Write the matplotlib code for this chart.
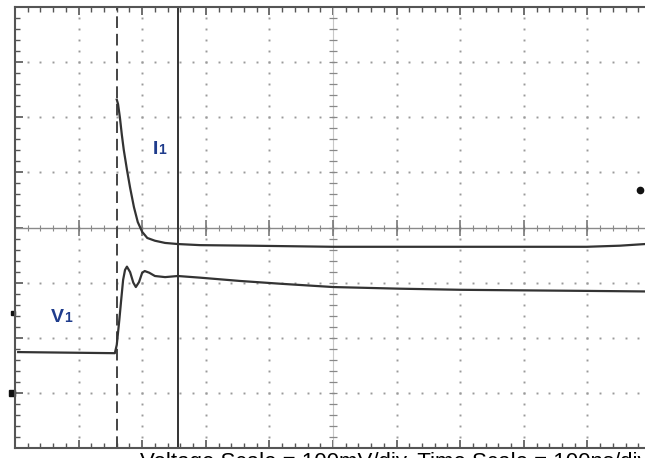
import numpy as np
import matplotlib.pyplot as plt

# scope trace values, in screen divisions (100 ns/div, 100 mV/div)
v1_t = [0.05, 1.57, 1.60, 1.64, 1.67, 1.70, 1.73, 1.76, 1.81, 1.86, 1.90, 1.95, 2.00, 2.04,
        2.11, 2.20, 2.36, 2.56, 2.91, 3.54, 4.17, 5.00, 6.05, 7.00, 7.94, 8.99, 9.91]
v1_y = [1.74, 1.72, 1.87, 2.32, 2.69, 3.05, 3.23, 3.29, 3.19, 3.00, 2.92, 3.01, 3.18, 3.21,
        3.18, 3.12, 3.10, 3.12, 3.09, 3.03, 2.98, 2.92, 2.89, 2.87, 2.86, 2.85, 2.84]

i1_t = [1.60, 1.62, 1.65, 1.68, 1.71, 1.76, 1.81, 1.87, 1.93, 2.00, 2.08, 2.20, 2.36,
        2.56, 2.91, 3.70, 5.00, 6.84, 8.99, 9.51, 9.91]
i1_y = [6.32, 6.24, 5.99, 5.68, 5.41, 5.05, 4.72, 4.37, 4.10, 3.92, 3.81, 3.76, 3.72,
        3.70, 3.68, 3.67, 3.65, 3.65, 3.65, 3.67, 3.70]

cursor_dashed = 1.60
cursor_solid = 2.56
scale_text = "Voltage Scale = 100mV/div, Time Scale = 100ns/div"

W, H = 645, 458
fig = plt.figure(figsize=(W / 100, H / 100), dpi=100)
ax = fig.add_axes([15 / W, 10 / H, 630 / W, 441 / H])
ax.set_xlim(0, 630 / 63.6)
ax.set_ylim(0, 8)

grid_c = '#9a9a9a'
# dotted graticule
for gx in range(1, 10):
    if gx == 5:
        continue
    ys = np.arange(0.2, 8, 0.2)
    ax.plot(np.full_like(ys, gx), ys, ls='none', marker='s', ms=1.4, color=grid_c, mew=0)
for gy in range(1, 8):
    if gy == 4:
        continue
    xs = np.arange(0.2, 10, 0.2)
    ax.plot(xs, np.full_like(xs, gy), ls='none', marker='s', ms=1.4, color=grid_c, mew=0)

# center axes with tick crosses
ax.axhline(4, color='#8a8a8a', lw=1.0)
ax.axvline(5, color='#c8c8c8', lw=0.8)
xs = np.arange(0.2, 10, 0.2)
ax.plot(xs, np.full_like(xs, 4), ls='none', marker='|', ms=5, color='#8a8a8a', mew=0.8)
ax.plot(np.arange(1, 10), np.full(9, 4), ls='none', marker='|', ms=12, color='#777777', mew=1.2)
ys = np.arange(0.2, 8, 0.2)
ax.plot(np.full_like(ys, 5), ys, ls='none', marker='_', ms=6, color='#888888', mew=0.9)

# cursors
ax.axvline(cursor_dashed, color='#444444', lw=1.4, ls=(0, (6, 3)))
ax.axvline(cursor_solid, color='#333333', lw=1.4)

# traces
ax.plot(v1_t, v1_y, color='#333333', lw=1.6)
ax.plot(i1_t, i1_y, color='#333333', lw=1.6)

# labels
lab_c = '#1f3c8c'
ax.text(2.17, 5.34, 'I', color=lab_c, fontsize=14, fontweight='bold',
        family='Liberation Sans', va='baseline')
ax.text(2.25, 5.34, '1', color=lab_c, fontsize=10, fontweight='bold',
        family='Liberation Sans', va='baseline')
ax.text(0.57, 2.29, 'V', color=lab_c, fontsize=14, fontweight='bold',
        family='Liberation Sans', va='baseline')
ax.text(0.78, 2.29, '1', color=lab_c, fontsize=10, fontweight='bold',
        family='Liberation Sans', va='baseline')

# scope markers
ax.plot([-0.03], [2.45], marker='s', ms=3.5, color='#111111', clip_on=False)
ax.plot([-0.05], [1.0], marker='s', ms=5, color='#111111', clip_on=False)
ax.plot([9.83], [4.68], marker='o', ms=4.5, color='#111111', clip_on=False)

# borders
for side in ['top', 'bottom', 'left']:
    ax.spines[side].set_color('#555555')
    ax.spines[side].set_linewidth(1.5)
ax.spines['right'].set_visible(False)
ax.set_xticks(np.arange(0, 10, 1))
ax.set_xticks(np.arange(0, 10, 0.2), minor=True)
ax.set_yticks(np.arange(0, 9, 1))
ax.set_yticks(np.arange(0, 8, 0.2), minor=True)
ax.tick_params(which='both', direction='in', top=True, bottom=True, left=True, right=False,
               labelbottom=False, labelleft=False, color='#555555')
ax.tick_params(which='major', length=6, width=1.2)
ax.tick_params(which='minor', length=3.5, width=1.0)

# caption, cut off by the bottom edge as in the screenshot
fig.text(140 / W, 1 - 468 / H, scale_text, fontsize=16, family='Liberation Sans',
         color='black', va='baseline', ha='left')

fig.savefig('out.png', dpi=100)
